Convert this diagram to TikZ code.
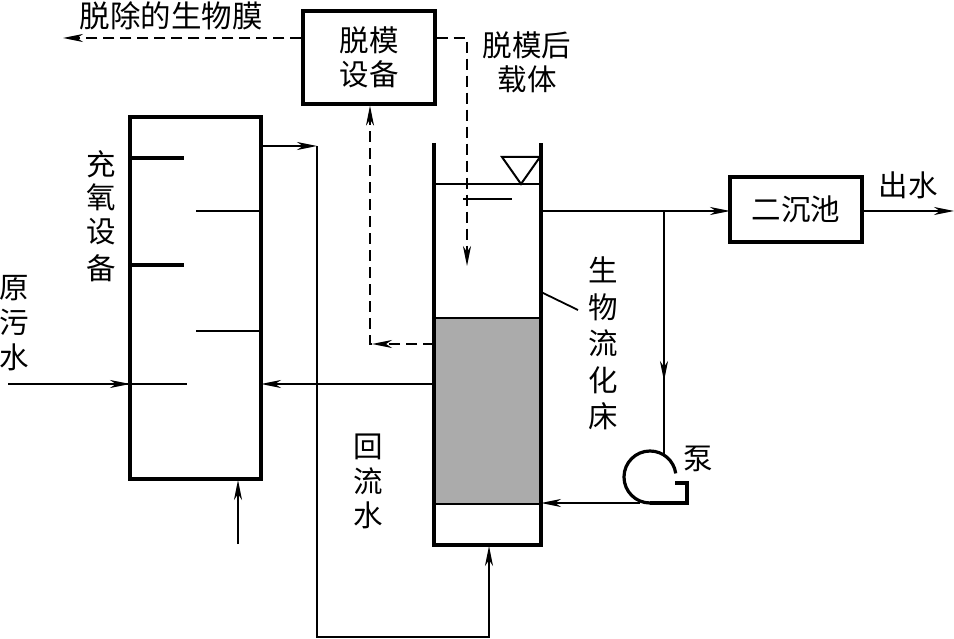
\documentclass[tikz,border=0pt]{standalone}
\usepackage{fontspec}
\setmainfont{Noto Sans CJK SC}
\usetikzlibrary{arrows.meta}
\tikzset{
  x=1pt,y=-1pt,
  thin line/.style={line width=1.5pt},
  thick line/.style={line width=3.2pt},
  tipped/.style={-{Stealth[length=20pt,width=8pt,inset=6pt]}},
  dash line/.style={line width=1.6pt,dash pattern=on 11pt off 6pt},
  box/.style={draw,line width=3.2pt,minimum width=#1,inner sep=0pt,align=center},
  label/.style={font=\fontsize{29.5}{35}\selectfont,inner sep=0pt,align=center},
}
\begin{document}
\begin{tikzpicture}
\useasboundingbox (0,0) rectangle (954,639);
% bed fill
\fill[black!33] (434,318) rectangle (541,504);
% boxes
\node[box=132pt,minimum height=93pt,label,line width=3.2pt] (strip) at (369,57.5) {脱模\\[-1pt]设备};
\node[box=132pt,minimum height=65pt,label,line width=3.2pt] (settle) at (796,209.5) {二沉池};
\node[box=131pt,minimum height=362pt] (aer) at (195.5,298) {};
% bed walls
\coordinate (wallLT) at (434,143);
\coordinate (wallLB) at (434,545);
\coordinate (wallRT) at (541,143);
\coordinate (wallRB) at (541,545);
\draw[thick line,line join=miter] (wallLT) -- (wallLB) -- (wallRB) -- (wallRT);
\draw[line width=2.4pt] (434,318) -- (541,318) (434,504) -- (541,504);
% water surface
\coordinate (waterL) at (434,184);
\coordinate (waterR) at (541,184);
\draw[line width=1.8pt] (waterL) -- (waterR);
\draw[line width=1.6pt] (463,199) -- (512,199);
\draw[line width=2pt,line join=miter] (502,157) -- (540,157) -- (521,184) -- cycle;
% aeration stubs
\draw[thick line] (130,158) -- (184,158);
\draw[line width=2.4pt] (196,211) -- (261,211);
\draw[thick line] (130,265) -- (184,265);
\draw[line width=2.4pt] (196,331) -- (261,331);
% pump
\coordinate (pumpIn) at (640,503);
\draw[thick line,line join=miter] (675,483) -- (687,483) -- (687,503) -- (650,503);
\draw[thick line] (650,503) arc[start angle=-90,delta angle=-262,radius=26pt];
% connectors
\coordinate (rawIn) at (8,384);
\coordinate (rawEnd) at (187,384);
\coordinate (aerW) at (130,384);
\draw[thin line] (rawIn) -- (rawEnd);
\draw[thin line,tipped] (rawIn) -- (aerW);
\coordinate (bedOut) at (434,384);
\coordinate (aerE) at (261,384);
\draw[thin line,tipped] (bedOut) -- (aerE);
\coordinate (airIn) at (238,544);
\coordinate (aerS) at (238,480);
\draw[thin line,tipped] (airIn) -- (aerS);
% return water
\coordinate (retA) at (261,146);
\coordinate (retB) at (317,146);
\coordinate (retC) at (317,637);
\coordinate (retD) at (489,637);
\coordinate (bedS) at (489,546);
\draw[thin line,tipped] (retA) -- (retB);
\draw[thin line,tipped] (retB) -- (retC) -- (retD) -- (bedS);
% outlet
\coordinate (bedE) at (541,211);
\coordinate (branch) at (664,211);
\coordinate (settleW) at (730,211);
\draw[thin line,tipped] (bedE) -- (settleW);
\coordinate (branchMid) at (664,381);
\coordinate (pumpTop) at (664,456);
\draw[line width=1.1pt] (branch) -- (pumpTop);
\draw[line width=1.1pt,tipped] (branch) -- (branchMid);
\draw[thin line,tipped] (pumpIn) -- (541,503);
\coordinate (effEnd) at (954,211);
\draw[thin line,tipped] (settle.east |- effEnd) -- (effEnd);
% dashed
\coordinate (peelEnd) at (63,38);
\draw[dash line,tipped] (strip.west |- peelEnd) -- (peelEnd);
\coordinate (dashA) at (467,38);
\coordinate (dashEnd) at (467,266);
\draw[dash line,tipped] (strip.east |- dashA) -- (dashA) -- (dashEnd);
\coordinate (upStart) at (434,344);
\coordinate (upMid) at (372,344);
\coordinate (upCorner) at (370,344);
\draw[dash line,tipped] (upStart) -- (upMid);
\draw[dash line,tipped] (upMid) -- (upCorner) -- (strip.south -| upCorner);
% leader
\coordinate (leadA) at (541,292);
\coordinate (leadB) at (578,310);
\draw[line width=1.8pt] (leadA) -- (leadB);
% labels
\node[label,font=\fontsize{30.5}{35}\selectfont] (tPeel) at (171,16) {脱除的生物膜};
\node[label] (tCarrier) at (527,62) {脱模后\\[-1pt]载体};
\node[label] (t1) at (101,164) {充};
\node[label] (t2) at (101,197) {氧};
\node[label] (t3) at (101,232) {设};
\node[label] (t4) at (101,268) {备};
\node[label] (r1) at (14,288) {原};
\node[label] (r2) at (14,322) {污};
\node[label] (r3) at (14,357) {水};
\node[label] (h1) at (368,447) {回};
\node[label] (h2) at (368,481) {流};
\node[label] (h3) at (368,515) {水};
\node[label] (b1) at (603,270) {生};
\node[label] (b2) at (603,307) {物};
\node[label] (b3) at (603,343) {流};
\node[label] (b4) at (603,380) {化};
\node[label] (b5) at (603,416) {床};
\node[label] (tPump) at (698,459) {泵};
\node[label] (tOut) at (908,185) {出水};
\end{tikzpicture}
\end{document}
